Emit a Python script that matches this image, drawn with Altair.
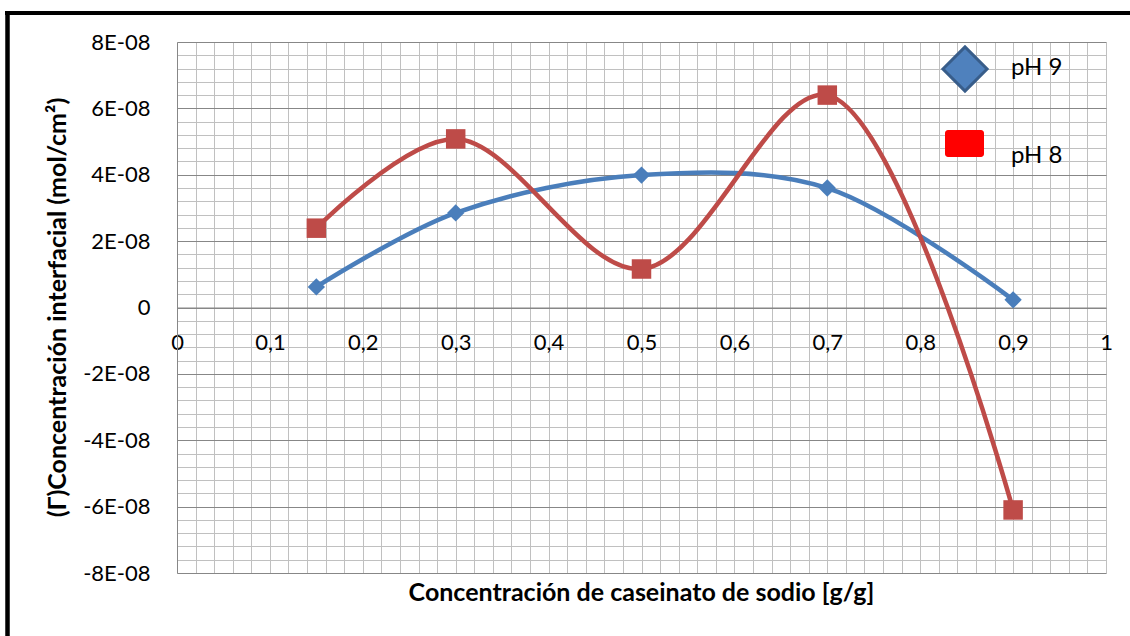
import altair as alt
import pandas as pd

# ---- data ----
x_vals = [0.15, 0.3, 0.5, 0.7, 0.9]
ph9_vals = [0.62e-8, 2.85e-8, 3.99e-8, 3.6e-8, 0.23e-8]
ph8_vals = [2.39e-8, 5.08e-8, 1.16e-8, 6.4e-8, -6.1e-8]
series_names = ["pH 9", "pH 8"]
x_label_ticks = [0, 0.1, 0.2, 0.3, 0.4, 0.5, 0.6, 0.7, 0.8, 0.9, 1]
x_grid_ticks = [round(i * 0.02, 2) for i in range(51)]
y_major_ticks = [-8e-8, -6e-8, -4e-8, -2e-8, 0, 2e-8, 4e-8, 6e-8, 8e-8]
y_minor_ticks = [round((-8 + i * 0.4) * 1e-8, 14) for i in range(41) if i % 5 != 0]
x_title = "Concentración de caseinato de sodio [g/g]"
y_title = "(Γ)Concentración interfacial (mol/cm²)"

df9 = pd.DataFrame({"x": x_vals, "y": ph9_vals})
df8 = pd.DataFrame({"x": x_vals, "y": ph8_vals})
one = pd.DataFrame({"t": [""]})

FONT = "Lato"
W, H = 929, 531
PL, PT = 177, 42
BLUE = "#4A7EBB"
RED = "#BE4B48"

xs = alt.Scale(domain=[0, 1], nice=False, zero=False)
ys = alt.Scale(domain=[-8e-8, 8e-8], nice=False, zero=False)

y_major_axis = alt.Axis(
    orient="left", values=y_major_ticks, grid=True, title=None,
    gridColor="#878787", gridWidth=1, domainColor="#878787", domainWidth=1, ticks=False,
    labelExpr="datum.value == 0 ? '0' : (round(datum.value*1e8) + 'E-08')",
    labelFont=FONT, labelFontSize=22, labelColor="#000000", labelPadding=27,
    labelOverlap=False, labelBound=False, labelFlush=False,
)
y_minor_axis = alt.Axis(
    orient="right", values=y_minor_ticks, grid=True, gridColor="#C0C0C0", gridWidth=1,
    labels=False, ticks=False, domain=False, title=None,
)
x_grid_axis = alt.Axis(
    orient="top", values=x_grid_ticks, grid=True, gridColor="#C0C0C0", gridWidth=1,
    labels=False, ticks=False, domain=False, title=None,
)
x_label_axis = alt.Axis(
    orient="bottom", offset=-(H / 2), values=x_label_ticks, grid=False, ticks=False,
    domainColor="#878787", domainWidth=1, title=None,
    labelExpr="datum.value == 0 ? '0' : (datum.value == 1 ? '1' : replace(format(datum.value, '.1f'), '.', ','))",
    labelFont=FONT, labelFontSize=22, labelColor="#000000", labelPadding=25,
    labelBaseline="top", labelFlush=False, labelOverlap=False, labelBound=False,
)

line9 = alt.Chart(df9).mark_line(color=BLUE, strokeWidth=4.5, interpolate="catmull-rom").encode(
    x=alt.X("x:Q", scale=xs, axis=x_grid_axis),
    y=alt.Y("y:Q", scale=ys, axis=y_minor_axis),
)
pts9 = alt.Chart(df9).mark_point(shape="diamond", filled=True, size=300, color=BLUE, opacity=1).encode(
    x=alt.X("x:Q", scale=xs, axis=None),
    y=alt.Y("y:Q", scale=ys, axis=None),
)
line8 = alt.Chart(df8).mark_line(color=RED, strokeWidth=4.5, interpolate="catmull-rom").encode(
    x=alt.X("x:Q", scale=xs, axis=x_label_axis),
    y=alt.Y("y:Q", scale=ys, axis=y_major_axis),
)
pts8 = alt.Chart(df8).mark_point(shape="square", filled=True, size=380, color=RED, opacity=1).encode(
    x=alt.X("x:Q", scale=xs, axis=None),
    y=alt.Y("y:Q", scale=ys, axis=None),
)

# legend (inside plot, top right)
leg_d = alt.Chart(one).mark_point(shape="diamond", filled=True, size=1950, fill="#4F81BD",
                                  stroke="#385D8A", strokeWidth=3, opacity=1).encode(
    x=alt.value(788), y=alt.value(27))
leg_s = alt.Chart(one).mark_rect(fill="#FF0000", cornerRadius=3).encode(
    x=alt.value(768), x2=alt.value(807), y=alt.value(88), y2=alt.value(115))
leg_t9 = alt.Chart(one).mark_text(text=series_names[0], font=FONT, fontSize=24, align="left",
                                  baseline="middle", color="#000000").encode(
    x=alt.value(834), y=alt.value(26))
leg_t8 = alt.Chart(one).mark_text(text=series_names[1], font=FONT, fontSize=24, align="left",
                                  baseline="middle", color="#000000").encode(
    x=alt.value(834), y=alt.value(114))

# axis titles
xt = alt.Chart(one).mark_text(text=x_title, font=FONT, fontSize=25, fontWeight="bold",
                              align="center", baseline="middle", color="#000000").encode(
    x=alt.value(W / 2), y=alt.value(593 - PT))
yt = alt.Chart(one).mark_text(text=y_title, font=FONT, fontSize=25, fontWeight="bold",
                              align="center", baseline="middle", angle=270, color="#000000").encode(
    x=alt.value(58 - PL), y=alt.value(307.5 - PT))

# outer frame (top and left edges visible)
frame_top = alt.Chart(one).mark_rule(color="#000000", strokeWidth=4).encode(
    x=alt.value(5 - PL), x2=alt.value(1135 - PL), y=alt.value(13 - PT))
frame_left = alt.Chart(one).mark_rule(color="#000000", strokeWidth=4.5).encode(
    x=alt.value(7.5 - PL), y=alt.value(11 - PT), y2=alt.value(640 - PT))

chart = alt.layer(
    line9, line8, pts9, pts8, leg_d, leg_s, leg_t9, leg_t8, xt, yt, frame_top, frame_left
).resolve_axis(x="independent", y="independent").properties(
    width=W, height=H,
    autosize=alt.AutoSizeParams(type="none"),
    padding={"left": PL, "top": PT, "right": 1130 - PL - W, "bottom": 636 - PT - H},
    background="white",
).configure_view(stroke=None)

chart.save("out.html", embed_options={"renderer": "svg", "actions": False})
